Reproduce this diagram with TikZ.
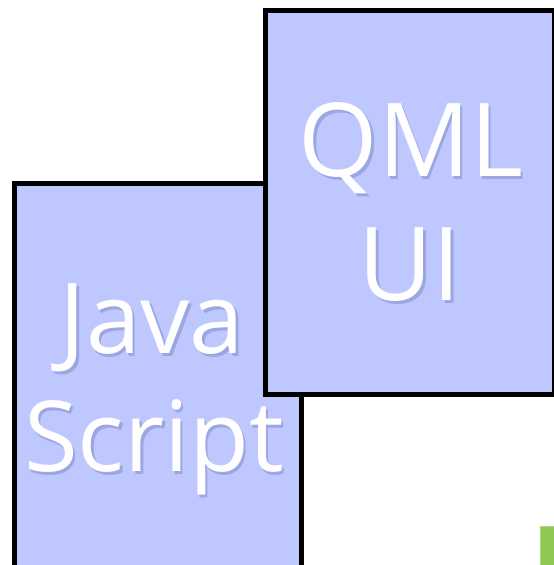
\documentclass[tikz,border=0pt]{standalone}
\usepackage{fontspec}
\setmainfont{Open Sans}
\definecolor{panelfill}{RGB}{190,200,255}
\definecolor{shadowblue}{RGB}{70,80,150}
\definecolor{leafgreen}{RGB}{140,200,82}
\newcommand{\bigword}[4]{%
  % soft drop shadow under the white text
  \node[word, font=\fontsize{#4}{#4}\selectfont, text=shadowblue, opacity=0.28] at ([shift={(2.5,-3)}]#1) {#3};
  \node[word, font=\fontsize{#4}{#4}\selectfont] (#2) at (#1) {#3};
}
\begin{document}
\begin{tikzpicture}[x=1pt,y=1pt,
  panel/.style={draw=black, line width=5pt, fill=panelfill, outer sep=0pt, inner sep=0pt, anchor=north west},
  word/.style={anchor=base, text=white, inner sep=0pt}]
\useasboundingbox (0,0) rectangle (554,565);
\fill[white] (0,0) rectangle (554,565);
\clip (0,0) rectangle (554,565);
% green block peeking in at the lower right corner
\node[fill=leafgreen, draw=leafgreen!70!white, line width=1pt, minimum width=20pt, minimum height=40pt, anchor=south west, inner sep=0pt, outer sep=0pt] (leaf) at (540.5,-2) {};
% JavaScript panel (behind)
\node[panel, minimum width=287pt, minimum height=420pt] (jspanel) at (14.5,381.5) {};
% QML UI panel (in front)
\node[panel, minimum width=289pt, minimum height=384pt] (qmlpanel) at (265.5,554.5) {};
% labels
\coordinate (javaat) at (152,211);
\coordinate (scriptat) at (154,93);
\coordinate (qmlat) at (411,388);
\coordinate (uiat) at (410,264);
\bigword{javaat}{java}{Java}{98}
\bigword{scriptat}{script}{Script}{98}
\bigword{qmlat}{qml}{QML}{102}
\bigword{uiat}{ui}{UI}{102}
\end{tikzpicture}
\end{document}
